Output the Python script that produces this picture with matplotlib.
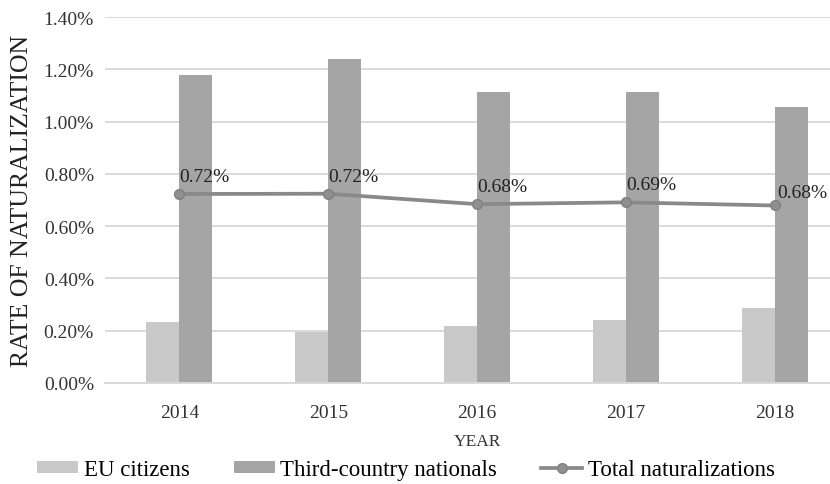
import numpy as np
import matplotlib
matplotlib.use("Agg")
import matplotlib.pyplot as plt

plt.rcParams["font.family"] = ["Liberation Serif", "DejaVu Serif"]

years = ["2014", "2015", "2016", "2017", "2018"]
eu_citizens = [0.234, 0.194, 0.217, 0.242, 0.288]
third_country = [1.177, 1.241, 1.115, 1.115, 1.054]
total_nat = [0.723, 0.724, 0.684, 0.691, 0.679]
total_labels = ["0.72%", "0.72%", "0.68%", "0.69%", "0.68%"]

fig = plt.figure(figsize=(8.3, 4.85), dpi=100)
# axes run slightly past the right edge, as in the source image
ax = fig.add_axes([105 / 830, 101 / 485, 744 / 830, 366 / 485])

x = np.arange(len(years))
w = 0.222
b1 = ax.bar(x - w / 2, eu_citizens, w, color="#c9c9c9", label="EU citizens", zorder=2)
b2 = ax.bar(x + w / 2, third_country, w, color="#a5a5a5", label="Third-country nationals", zorder=2)
ln, = ax.plot(x, total_nat, color="#898989", lw=2.7, marker="o", ms=7,
              mfc="#8f8f8f", mec="#7f7f7f", label="Total naturalizations", zorder=3)

for i, (v, lab) in enumerate(zip(total_nat, total_labels)):
    off = (2, 9) if i == len(years) - 1 else (0, 12.5)
    ax.annotate(lab, (x[i], v), xytext=off, textcoords="offset points",
                ha="left", va="center", fontsize=14, color="#222222", zorder=4)

ax.set_xlim(-0.5, len(years) - 0.5)
ax.set_ylim(0, 1.4)
ticks = np.arange(0, 1.41, 0.2)
ax.set_yticks(ticks)
ax.set_yticklabels([f"{v:.2f}%" for v in ticks])
ax.set_xticks(x)
ax.set_xticklabels(years)

ax.grid(axis="y", color="#d9d9d9", lw=1.4, zorder=0)
ax.set_axisbelow(True)
for s in ["top", "right", "left"]:
    ax.spines[s].set_visible(False)
ax.spines["bottom"].set_color("#d9d9d9")
ax.spines["bottom"].set_linewidth(1.4)
ax.tick_params(axis="both", length=0, labelsize=14, colors="#333333")
ax.tick_params(axis="x", pad=15)
ax.tick_params(axis="y", pad=8)

ax.set_ylabel("RATE OF NATURALIZATION", fontsize=18.5, color="#222222")
ax.yaxis.set_label_coords(-83 / 744, 0.5)
ax.yaxis.label.set_va("center")
ax.set_xlabel("YEAR", fontsize=12.5, color="#333333")
ax.xaxis.set_label_coords(0.5, -58 / 366)
ax.xaxis.label.set_va("center")

fig.legend(handles=[b1, b2, ln], loc="center", bbox_to_anchor=(406 / 830, 14 / 485), ncol=3,
           frameon=False, fontsize=16.5, handlelength=1.8, handleheight=0.45,
           handletextpad=0.25, columnspacing=1.9)

fig.savefig("out.png", dpi=100)
